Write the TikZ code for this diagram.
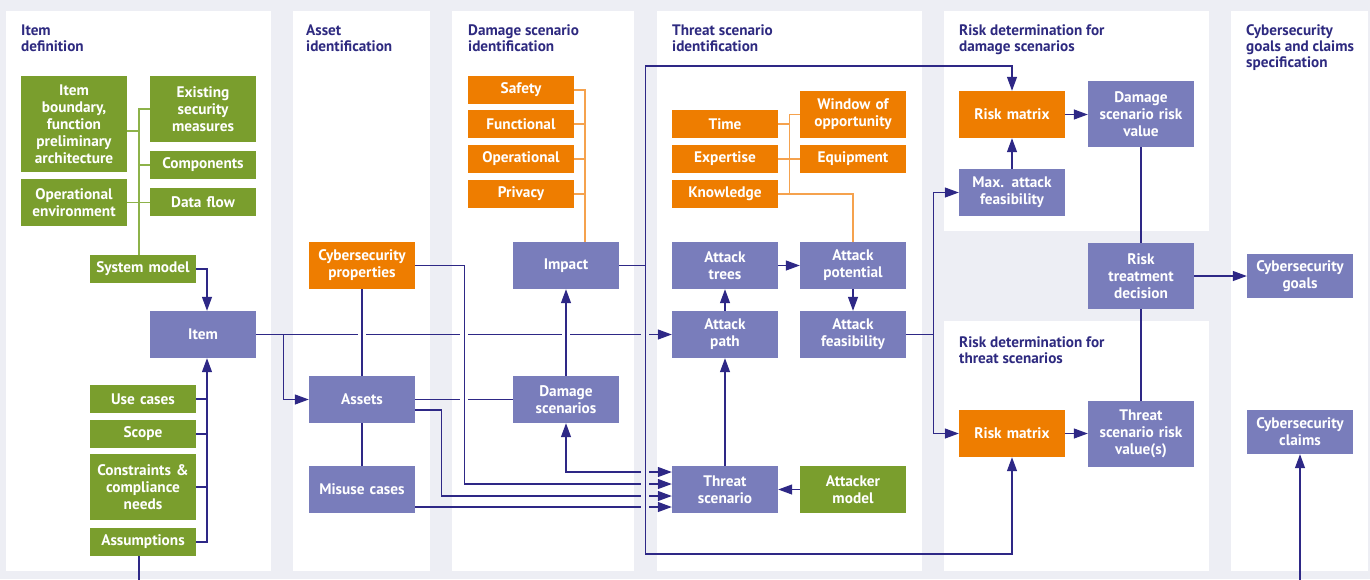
\documentclass[tikz,border=0pt]{standalone}
\usepackage{fontspec}
\setmainfont{PT Sans}
\usetikzlibrary{arrows.meta,calc}
\definecolor{bgc}{HTML}{EDEEF4}
\definecolor{grn}{HTML}{7A9E2D}
\definecolor{grnl}{HTML}{8DB24A}
\definecolor{org}{HTML}{EE7D00}
\definecolor{orgl}{HTML}{F5A24E}
\definecolor{pur}{HTML}{797DBB}
\definecolor{lnc}{HTML}{2E2886}
\definecolor{ttl}{HTML}{2E2A80}
\tikzset{
  box/.style={minimum width=106pt, inner sep=1pt, align=center, text=white,
    font=\fontsize{15.3}{17}\selectfont\bfseries, text width=104pt},
  gbox/.style={box, fill=grn},
  obox/.style={box, fill=org},
  pbox/.style={box, fill=pur},
  ttlnode/.style={anchor=base west, inner sep=0pt, align=left, text=ttl,
    font=\fontsize{15.2}{16}\selectfont\bfseries},
  bl/.style={draw=lnc, line width=1.2pt},
  arr/.style={bl, -{Triangle[length=14pt,width=10pt]}},
  arrb/.style={bl, {Triangle[length=14pt,width=10pt]}-{Triangle[length=14pt,width=10pt]}},
  gl/.style={draw=grnl, line width=1.4pt},
  ol/.style={draw=orgl, line width=1.4pt},
}
\begin{document}
\begin{tikzpicture}[x=1pt,y=-1pt]
\useasboundingbox (0,0) rectangle (1370,579);
\clip (0,0) rectangle (1370,579);
\fill[bgc] (0,0) rectangle (1370,579);
% panels
\fill[white] (6,11) rectangle (271,571);
\fill[white] (293,11) rectangle (430,571);
\fill[white] (452,11) rectangle (634,571);
\fill[white] (657,11) rectangle (922,571);
\fill[white] (944,11) rectangle (1209,231);
\fill[white] (944,321) rectangle (1209,571);
\fill[white] (1231,11) rectangle (1368,571);
% titles (anchored at the baseline of the last line)
\node[ttlnode] (t1) at (21,51) {Item\\definition};
\node[ttlnode] (t2) at (306,51) {Asset\\identification};
\node[ttlnode] (t3) at (468,51) {Damage scenario\\identification};
\node[ttlnode] (t4) at (672,51) {Threat scenario\\identification};
\node[ttlnode] (t5) at (959,51) {Risk determination for\\damage scenarios};
\node[ttlnode] (t6) at (959,363) {Risk determination for\\threat scenarios};
\node[ttlnode] (t7) at (1246,67) {Cybersecurity\\goals and claims\\specification};
% panel 1
\node[gbox, minimum height=96pt] (ib) at (74,124) {Item\\boundary,\\function\\preliminary\\architecture};
\node[gbox, minimum height=66pt] (esm) at (203,109) {Existing\\security\\measures};
\node[gbox, minimum height=28pt] (comp) at (203,165) {Components};
\node[gbox, minimum height=47pt] (openv) at (74,202.5) {Operational\\environment};
\node[gbox, minimum height=28pt] (dflow) at (203,202) {Data flow};
\node[gbox, minimum height=28pt] (sysm) at (143,269) {System model};
\node[pbox, minimum height=47pt] (item) at (203,334.5) {Item};
\node[gbox, minimum height=28pt] (usec) at (143,399) {Use cases};
\node[gbox, minimum height=28pt] (scope) at (143,434) {Scope};
\node[gbox, minimum height=66pt] (constr) at (143,487) {Constraints \&\\compliance\\needs};
\node[gbox, minimum height=28pt] (assum) at (143,542) {Assumptions};
% panel 2
\node[obox, minimum height=47pt] (cprop) at (362,265.5) {Cybersecurity\\properties};
\node[pbox, minimum height=47pt] (assets) at (362,399.5) {Assets};
\node[pbox, minimum height=47pt] (misuse) at (362,489.5) {Misuse cases};
% panel 3
\node[obox, minimum height=28pt] (safety) at (521,90) {Safety};
\node[obox, minimum height=28pt] (func) at (521,124) {Functional};
\node[obox, minimum height=28pt] (oper) at (521,159) {Operational};
\node[obox, minimum height=28pt] (priv) at (521,194) {Privacy};
\node[pbox, minimum height=47pt] (impact) at (566,265.5) {Impact};
\node[pbox, minimum height=47pt] (dmg) at (566,399.5) {Damage\\scenarios};
% panel 4
\node[obox, minimum height=28pt] (time) at (725,124) {Time};
\node[obox, minimum height=28pt] (expert) at (725,159) {Expertise};
\node[obox, minimum height=28pt] (know) at (725,194) {Knowledge};
\node[obox, minimum height=47pt] (window) at (853,114.5) {Window of\\opportunity};
\node[obox, minimum height=28pt] (equip) at (853,159) {Equipment};
\node[pbox, minimum height=47pt] (atree) at (725,265.5) {Attack\\trees};
\node[pbox, minimum height=47pt] (apot) at (853,265.5) {Attack\\potential};
\node[pbox, minimum height=47pt] (apath) at (725,334.5) {Attack\\path};
\node[pbox, minimum height=47pt] (afeas) at (853,334.5) {Attack\\feasibility};
\node[pbox, minimum height=47pt] (tscen) at (725,489.5) {Threat\\scenario};
\node[gbox, minimum height=47pt] (amodel) at (853,489.5) {Attacker\\model};
% panel 5
\node[obox, minimum height=47pt] (rm1) at (1012,114.5) {Risk matrix};
\node[pbox, minimum height=66pt] (dsrv) at (1141,114) {Damage\\scenario risk\\value};
\node[pbox, minimum height=47pt] (maxaf) at (1012,192.5) {Max. attack\\feasibility};
\node[pbox, minimum height=66pt] (rtd) at (1141,276) {Risk\\treatment\\decision};
\node[obox, minimum height=47pt] (rm2) at (1012,433.5) {Risk matrix};
\node[pbox, minimum height=66pt] (tsrv) at (1141,434) {Threat\\scenario risk\\value(s)};
% panel 6
\node[pbox, minimum height=44pt] (cgoals) at (1300,276) {Cybersecurity\\goals};
\node[pbox, minimum height=44pt] (cclaims) at (1300,432) {Cybersecurity\\claims};
% ---- green connectors
\coordinate (gs) at ([xshift=-4pt]sysm.north);
\coordinate (gib) at ([yshift=-7pt]ib.east);
\draw[gl] (gs) |- (esm.west);
\draw[gl] (gib) -- (gib -| gs);
\draw[gl] (comp.west) -- (comp.west -| gs);
\draw[gl] (openv.east) -- (openv.east -| dflow.west);
% ---- orange connectors
\coordinate (os) at ([xshift=19pt]impact.north);
\draw[ol] (safety.east) -| (os);
\draw[ol] (func.east) -- (func.east -| os);
\draw[ol] (oper.east) -- (oper.east -| os);
\draw[ol] (priv.east) -- (priv.east -| os);
\coordinate (os2) at ([xshift=11pt]know.east);
\draw[ol] (window.west) -| (os2);
\draw[ol] (time.east) -- (time.east -| os2);
\draw[ol] (expert.east) -- (equip.west);
\draw[ol] (know.east) -| (apot.north);
% ---- blue connectors, panel 1
\draw[arr] (sysm.east) -| ([xshift=4pt]item.north);
\coordinate (bs) at ([xshift=4pt]item.south);
\draw[arr] (assum.east) -| (bs);
\draw[bl] (usec.east) -- (usec.east -| bs);
\draw[bl] (scope.east) -- (scope.east -| bs);
\draw[bl] (constr.east) -- (constr.east -| bs);
\draw[arr] ([xshift=-4pt]assum.south) -- ++(0,50) -| (cclaims.south);
% horizontal lines first
\draw[arr] (item.east) -- (apath.west);
\draw[arr] ([xshift=27pt]item.east) |- (assets.west);
\draw[bl] (assets.east) -- (dmg.west);
% white gaps
\foreach \gx/\gy in {362/334.5, 464/334.5, 566/334.5, 464/399.5}
  \fill[white] (\gx-4,\gy-2.5) rectangle (\gx+4,\gy+2.5);
\draw[bl] (cprop.south) -- (assets.north);
\draw[bl] (assets.south) -- (misuse.north);
\draw[arr] (cprop.east) -- ++(49,0) |- ([yshift=5.5pt]tscen.west);
\draw[arr] ([yshift=-10.5pt]assets.east) -- ++(26,0) |- ([yshift=-6.5pt]tscen.west);
\draw[arr] ([yshift=-17.5pt]misuse.east) -- ([yshift=-17.5pt]tscen.west);
\draw[arrb] (dmg.south) |- ([yshift=17.5pt]tscen.west);
\draw[arr] (dmg.north) -- (impact.south);
% gray gaps
\foreach \gy in {334.5, 472, 484, 496, 507}
  \fill[bgc] (641,\gy-2.5) rectangle (649,\gy+2.5);
% loop
\coordinate (lp) at ([xshift=26pt]impact.east);
\draw[bl] (impact.east) -- (lp);
\draw[arr] (lp) -- ++(0,-199.5) -| (rm1.north);
\draw[arr] (lp) -- ++(0,288.5) -| (rm2.south);
% panel 4
\draw[arr] (atree.east) -- (apot.west);
\draw[arr] (apath.north) -- (atree.south);
\draw[arr] (apot.south) -- (afeas.north);
\draw[arr] (tscen.north) -- (apath.south);
\draw[arr] (amodel.west) -- (tscen.east);
\coordinate (fj) at ([xshift=27pt]afeas.east);
\draw[bl] (afeas.east) -- (fj);
\draw[arr] (fj) |- (maxaf.west);
\draw[arr] (fj) |- (rm2.west);
% panel 5
\draw[arr] (maxaf.north) -- (rm1.south);
\draw[arr] (rm1.east) -- (rm1.east -| dsrv.west);
\draw[bl] (dsrv.south) -- (rtd.north);
\draw[bl] (tsrv.north) -- (rtd.south);
\draw[arr] (rm2.east) -- (rm2.east -| tsrv.west);
\draw[arr] (rtd.east) -- (rtd.east -| cgoals.west);
\end{tikzpicture}
\end{document}
